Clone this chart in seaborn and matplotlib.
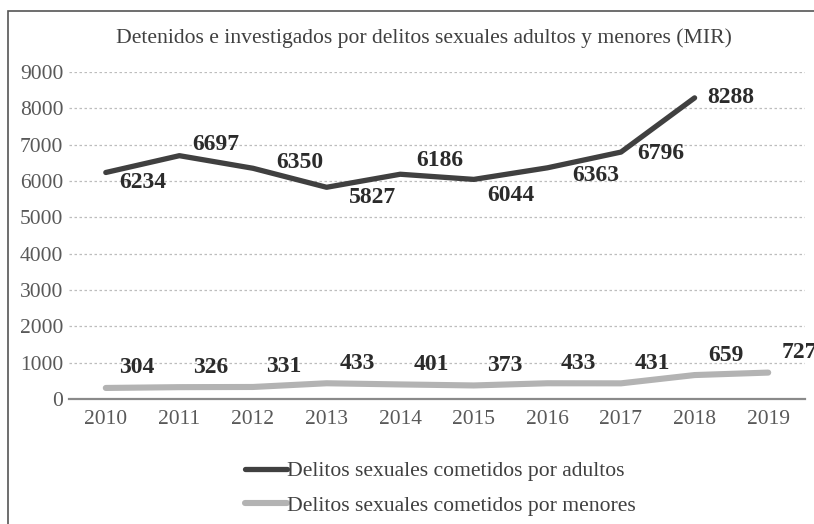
import numpy as np
import pandas as pd
import matplotlib
matplotlib.use("Agg")
import matplotlib.pyplot as plt
import seaborn as sns
from matplotlib.patches import Rectangle

# datos
anios = [2010, 2011, 2012, 2013, 2014, 2015, 2016, 2017, 2018, 2019]
adultos = [6234, 6697, 6350, 5827, 6186, 6044, 6363, 6796, 8288, np.nan]
menores = [304, 326, 331, 433, 401, 373, 433, 431, 659, 727]

titulo = "Detenidos e investigados por delitos sexuales adultos y menores (MIR)"
etiqueta_adultos = "Delitos sexuales cometidos por adultos"
etiqueta_menores = "Delitos sexuales cometidos por menores"

# desplazamiento de las etiquetas (px) respecto al punto
desp_adultos = [(37, 10), (36, -11), (47, -6), (46, 10), (40, -14),
                (37, 16), (48, 8), (40, 1), (36, 0), (0, 0)]
desp_menores = (31, -20)

sns.set_theme(style="white")
plt.rcParams['font.family'] = ['Liberation Serif', 'DejaVu Serif']

df = pd.DataFrame({'Año': anios, 'Adultos': adultos, 'Menores': menores})

fig = plt.figure(figsize=(8.14, 5.24), dpi=100)
ax = fig.add_axes([69/814, 1-399/524, (805-69)/814, (399-72)/524])

oscuro = '#404040'
claro = '#b3b3b3'

sns.lineplot(data=df, x='Año', y='Menores', color=claro, lw=4.4, ax=ax,
             label=etiqueta_menores, solid_capstyle='round', solid_joinstyle='round')
sns.lineplot(data=df, x='Año', y='Adultos', color=oscuro, lw=3.8, ax=ax,
             label=etiqueta_adultos, solid_capstyle='round', solid_joinstyle='round')

ax.set_xlim(2009.5, 2019.5)
ax.set_ylim(0, 9000)
ax.set_xticks(anios)
ax.set_yticks(range(0, 9001, 1000))
ax.set_xlabel('')
ax.set_ylabel('')
ax.tick_params(axis='both', length=0, labelsize=15.5, colors='#595959')
ax.tick_params(axis='x', pad=8)
ax.tick_params(axis='y', pad=4)

for y in range(1000, 9001, 1000):
    ax.axhline(y, color='#bdbdbd', lw=0.9, ls=(0, (2, 2)), zorder=0)

for s in ['top', 'right', 'left']:
    ax.spines[s].set_visible(False)
ax.spines['bottom'].set_color('#8a8a8a')
ax.spines['bottom'].set_linewidth(1.6)
ax.patch.set_alpha(0)

# etiquetas de datos
for a, v, d in zip(anios, adultos, desp_adultos):
    if np.isnan(v):
        continue
    ax.annotate(f"{v:.0f}", xy=(a, v), xytext=(d[0]*0.72, -d[1]*0.72),
                textcoords='offset points', ha='center', va='center',
                fontsize=17, fontweight='bold', color='#2b2b2b',
                annotation_clip=False)
for a, v in zip(anios, menores):
    ax.annotate(f"{v}", xy=(a, v), xytext=(desp_menores[0]*0.72, -desp_menores[1]*0.72),
                textcoords='offset points', ha='center', va='center',
                fontsize=17, fontweight='bold', color='#2b2b2b',
                annotation_clip=False)

fig.text(424/814, 1-38/524, titulo, ha='center', va='center', fontsize=15.6, color='#404040')

# leyenda
h, l = ax.get_legend_handles_labels()
leg = ax.legend(h[::-1], l[::-1], loc='upper left', bbox_to_anchor=(245/814, 1-461/524),
                bbox_transform=fig.transFigure, frameon=False, fontsize=15.6,
                handlelength=1.95, handletextpad=0.0, borderaxespad=0, borderpad=0,
                labelspacing=0.68)
for t in leg.get_texts():
    t.set_color('#404040')

# marco
fig.patches.append(Rectangle((8/814, -0.1), 1.2, 1.1 - 11/524,
                             transform=fig.transFigure, fill=False,
                             edgecolor='#555555', lw=1.2, zorder=10))

fig.savefig('out.png', dpi=100)
